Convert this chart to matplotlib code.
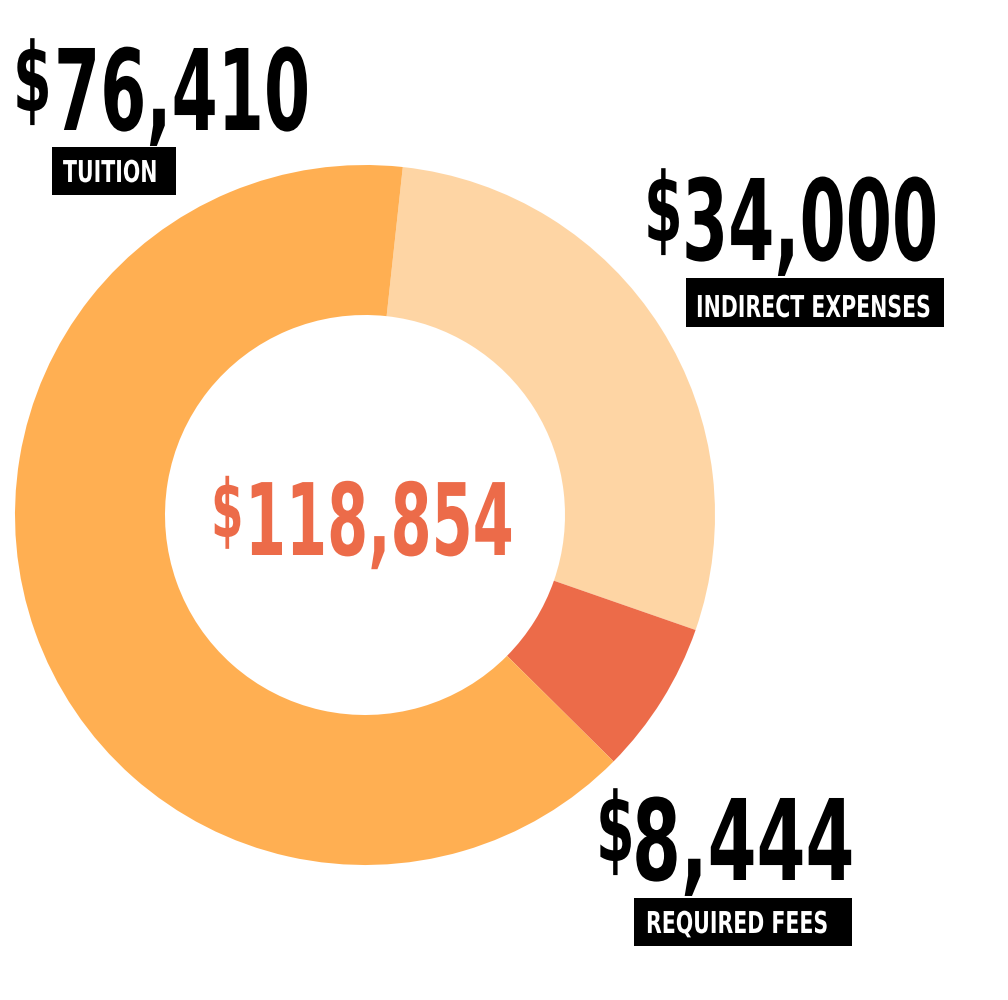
import matplotlib
matplotlib.use("Agg")
import matplotlib.pyplot as plt
from matplotlib.patches import Rectangle
from matplotlib.patheffects import AbstractPathEffect
from matplotlib.transforms import Affine2D

categories = ["TUITION", "INDIRECT EXPENSES", "REQUIRED FEES"]
values = [76410, 34000, 8444]
colors = ["#FFAF52", "#FED5A4", "#EC6B49"]
total = sum(values)

W, H = 1008, 1000
fig = plt.figure(figsize=(W / 100, H / 100), dpi=100)
fig.patch.set_facecolor("white")

FONT = ["DejaVu Sans"]


class Tall(AbstractPathEffect):
    """Stretch glyphs vertically about the baseline (gives a condensed look)."""

    def __init__(self, sy):
        super().__init__()
        self.sy = sy

    def draw_path(self, renderer, gc, tpath, affine, rgbFace=None):
        renderer.draw_path(gc, tpath, Affine2D().scale(1.0, self.sy) + affine, rgbFace)


def ctext(x, y, s, height_pt, ratio, weight="bold", **kw):
    """Text whose glyphs are `ratio` as wide as normal at an apparent size height_pt."""
    size = height_pt * ratio
    return fig.text(x, y, s, fontsize=size, family=FONT, fontweight=weight,
                    ha="left", va="baseline", path_effects=[Tall(1.0 / ratio)], **kw)


# donut: center (365,515), radius 350 px
cx, cy, r = 365, 515, 350
ax = fig.add_axes([(cx - r) / W, (H - cy - r) / H, 2 * r / W, 2 * r / H])
order = [1, 2, 0]  # clockwise drawing order starting just right of top
ax.pie([values[i] for i in order], colors=[colors[i] for i in order],
       startangle=83.8, counterclock=False, radius=1.0,
       wedgeprops=dict(width=1 - 200 / 350, linewidth=0))
ax.set_xlim(-1, 1)
ax.set_ylim(-1, 1)
ax.set_aspect("auto")
ax.axis("off")


def px(x, y):
    return x / W, 1 - y / H


def amount(xd, xn, base, value, color="black", size=81, dsize=69, dbase_off=19, ratio=0.59):
    ctext(*px(xd, base - dbase_off), "$", dsize, 0.58, color=color)
    ctext(*px(xn, base), f"{value:,}", size, ratio, color=color)


def label(box, xt, base, text, size=21.7):
    x0, y0, x1, y1 = box
    fig.add_artist(Rectangle((x0 / W, 1 - y1 / H), (x1 - x0) / W, (y1 - y0) / H,
                             transform=fig.transFigure, facecolor="black",
                             edgecolor="none"))
    ctext(*px(xt, base), text, size, 0.68, color="white")


# Tuition
amount(13, 54, 130, values[0])
label((52, 147, 176, 195), 63, 182, categories[0])
# Indirect
amount(644, 682, 260, values[1])
label((686, 278, 944, 327), 696, 317, categories[1])
# Fees
amount(596, 632, 880, values[2], ratio=0.625)
label((634, 898, 852, 946), 646, 933, categories[2])
# Center total
amount(211, 245, 555, total, color="#EC6B49", size=72, dsize=58, dbase_off=18)

fig.savefig("out.png", dpi=100, facecolor="white")
